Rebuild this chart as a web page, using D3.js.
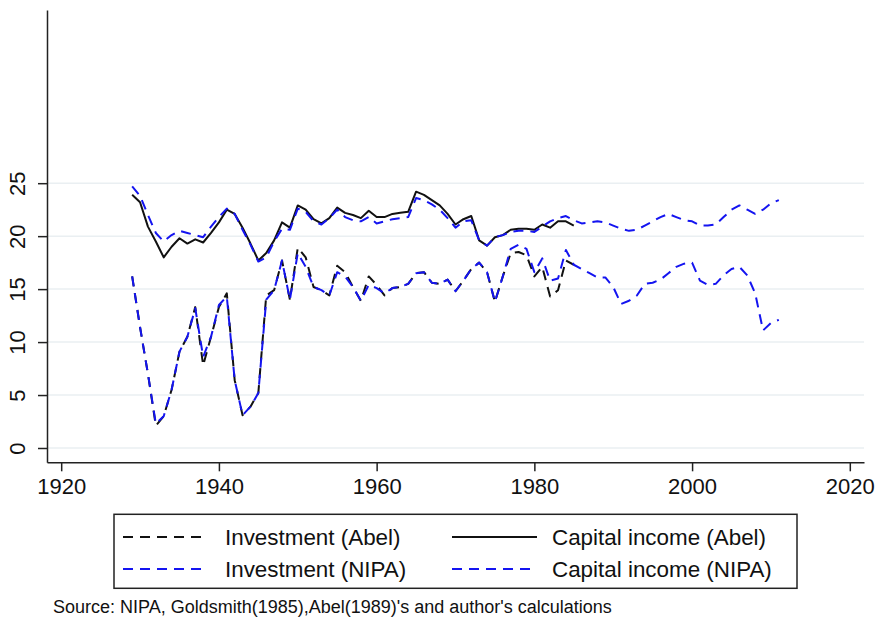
<!DOCTYPE html>
<html>
<head>
<meta charset="utf-8">
<script src="https://cdn.jsdelivr.net/npm/d3@7"></script>
<style>
  body { margin: 0; background: #fff; }
  svg { font-family: "Liberation Sans", Arial, Helvetica, sans-serif; }
</style>
</head>
<body>
<div id="chart"></div>
<script>
// years
var yearsNipa = d3.range(1929, 2012)
var yearsAbel = d3.range(1929, 1986)

// Capital income (Abel), 1929-1985
var capAbel = [23.9,23.2,20.9,19.5,18.0,19.0,19.8,19.3,19.7,19.4,
  20.3,21.3,22.5,22.1,20.8,19.3,17.7,18.4,19.6,21.3,
  20.8,22.9,22.5,21.6,21.2,21.7,22.7,22.2,22.0,21.7,
  22.4,21.8,21.8,22.1,22.2,22.3,24.2,23.9,23.4,22.9,
  22.1,21.1,21.6,21.9,19.6,19.1,19.9,20.1,20.6,20.7,
  20.7,20.6,21.1,20.8,21.4,21.4,21.0]

// Capital income (NIPA), 1929-2011
var capNipa = [24.7,23.8,22.0,20.3,19.5,20.1,20.5,20.3,20.1,19.9,
  20.9,21.8,22.6,22.1,20.6,19.2,17.6,18.0,19.5,20.7,
  20.6,22.6,22.3,21.4,21.1,21.7,22.5,21.8,21.5,21.4,
  21.8,21.2,21.4,21.6,21.7,21.8,23.6,23.4,23.0,22.5,
  21.7,20.8,21.4,21.5,19.6,19.1,19.9,20.1,20.4,20.5,
  20.5,20.4,20.9,21.4,21.7,21.9,21.5,21.2,21.3,21.4,
  21.3,21.0,20.7,20.5,20.6,21.0,21.4,21.8,22.1,21.8,
  21.5,21.4,21.0,21.0,21.1,21.8,22.5,22.9,22.5,22.1,
  22.5,23.1,23.4]

// Investment (Abel), 1929-1985
var invAbel = [16.2,11.4,7.0,2.1,3.0,5.5,9.1,10.5,13.3,7.8,
  10.5,13.3,14.6,6.4,3.1,3.9,5.2,14.4,14.9,17.7,
  14.0,18.9,18.0,15.2,14.9,14.4,17.2,16.6,15.2,13.9,
  16.2,15.4,14.4,15.1,15.2,15.5,16.5,16.6,15.6,15.5,
  15.9,14.8,15.8,16.9,17.5,16.6,13.8,16.2,18.4,18.5,
  18.2,16.2,17.1,14.3,14.9,17.7,17.3]

// Investment (NIPA), 1929-2011
var invNipa = [16.2,11.4,7.0,2.3,3.0,5.5,9.1,10.5,13.2,8.6,
  10.5,13.5,14.3,6.4,3.1,3.9,5.2,14.0,14.9,17.7,
  14.0,18.4,17.1,15.2,14.9,14.4,16.6,16.2,15.2,13.9,
  15.4,15.1,14.6,15.1,15.2,15.5,16.5,16.6,15.6,15.5,
  15.9,14.8,15.8,16.9,17.5,16.6,13.8,16.2,18.8,19.2,
  18.8,16.6,17.9,15.8,16.0,18.7,17.3,16.9,16.5,16.1,
  16.1,15.2,13.6,13.9,14.4,15.5,15.6,15.9,16.5,17.1,
  17.4,17.5,15.8,15.4,15.5,16.3,16.9,17.1,16.3,14.6,
  11.1,11.8,12.1]

var xTicks = [1920, 1940, 1960, 1980, 2000, 2020]
var yTicks = [0, 5, 10, 15, 20, 25]
var sourceNote = "Source: NIPA, Goldsmith(1985),Abel(1989)'s and author's calculations"

var width = 878, height = 624
var blue = "#1414f0"

let svg = d3.select("#chart")
  .append("svg")
  .attr("width", width)
  .attr("height", height)

var x = d3.scaleLinear().domain([1918.2, 2021.8]).range([47, 864])
var y = d3.scaleLinear().domain([-1.35, 41.35]).range([462.3, 10])

// gridlines
svg.append("g")
  .selectAll("line")
  .data(yTicks)
  .enter()
  .append("line")
  .attr("x1", 47).attr("x2", 864)
  .attr("y1", d => y(d)).attr("y2", d => y(d))
  .attr("stroke", "#eaeff2")
  .attr("stroke-width", 1.5)

// axes
let xAxis = svg.append("g")
  .attr("transform", "translate(0,462.3)")
  .call(d3.axisBottom(x).tickValues(xTicks).tickFormat(d3.format("d")).tickSize(9).tickSizeOuter(0))
xAxis.selectAll("text").attr("y", 16).style("font-size", "22px").attr("fill", "#111")

let yAxis = svg.append("g")
  .attr("transform", "translate(47,0)")
  .call(d3.axisLeft(y).tickValues(yTicks).tickSize(9).tickSizeOuter(0))
yAxis.selectAll("text")
  .attr("x", 0).attr("dy", 0)
  .attr("transform", "translate(-22,0) rotate(-90)")
  .style("text-anchor", "middle")
  .style("font-size", "22px")
  .attr("fill", "#111")

svg.selectAll(".domain").attr("stroke", "#222").attr("stroke-width", 1.5)
svg.selectAll(".tick line").attr("stroke", "#222").attr("stroke-width", 1.5)

// series, in Stata's drawing order
var series = [
  {name: "Investment (Abel)", years: yearsAbel, vals: invAbel, color: "#111", dash: "10,7"},
  {name: "Capital income (Abel)", years: yearsAbel, vals: capAbel, color: "#111", dash: null},
  {name: "Investment (NIPA)", years: yearsNipa, vals: invNipa, color: blue, dash: "10,7"},
  {name: "Capital income (NIPA)", years: yearsNipa, vals: capNipa, color: blue, dash: "10,7"}
]

var line = d3.line()
  .x(d => x(d[0]))
  .y(d => y(d[1]))

series.forEach(function(s) {
  svg.append("path")
    .datum(s.years.map((yr, i) => [yr, s.vals[i]]))
    .attr("d", line)
    .attr("fill", "none")
    .attr("stroke", s.color)
    .attr("stroke-width", 2)
    .attr("stroke-linejoin", "round")
    .attr("stroke-dasharray", s.dash)
})

// legend
let legend = svg.append("g")
legend.append("rect")
  .attr("x", 114).attr("y", 514.3)
  .attr("width", 683).attr("height", 74)
  .attr("fill", "white")
  .attr("stroke", "#222")
  .attr("stroke-width", 1.5)

var legendPos = [
  {lx: 123, tx: 225, cy: 537},
  {lx: 452, tx: 552, cy: 537},
  {lx: 123, tx: 225, cy: 569},
  {lx: 452, tx: 552, cy: 569}
]

series.forEach(function(s, i) {
  var p = legendPos[i]
  legend.append("line")
    .attr("x1", p.lx).attr("x2", p.lx + 85)
    .attr("y1", p.cy).attr("y2", p.cy)
    .attr("stroke", s.color)
    .attr("stroke-width", 2)
    .attr("stroke-dasharray", s.dash)
  legend.append("text")
    .attr("x", p.tx).attr("y", p.cy)
    .attr("dy", "0.36em")
    .style("font-size", "22.4px")
    .attr("fill", "#111")
    .text(s.name)
})

svg.append("text")
  .attr("x", 53).attr("y", 613)
  .style("font-size", "18px")
  .attr("fill", "#111")
  .text(sourceNote)
</script>
</body>
</html>
